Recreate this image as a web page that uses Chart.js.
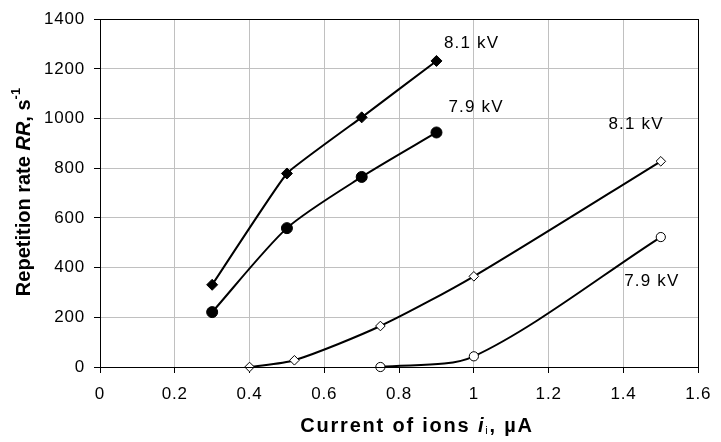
<!DOCTYPE html>
<html>
<head>
<meta charset="utf-8">
<script src="https://cdn.jsdelivr.net/npm/chart.js@4/dist/chart.umd.min.js"></script>
<style>
  body { margin: 0; background: #fff; }
  #wrap { width: 721px; height: 442px; position: relative; }
</style>
</head>
<body>
<div id="wrap"><canvas id="rrChart"></canvas></div>
<script>
// values
const xTicks = [0, 0.2, 0.4, 0.6, 0.8, 1, 1.2, 1.4, 1.6];
const yTicks = [0, 200, 400, 600, 800, 1000, 1200, 1400];

const xFilled = [0.3, 0.5, 0.7, 0.9];
const rrFilled81 = [331, 779, 1005, 1232];
const rrFilled79 = [221, 559, 765, 944];

const xOpen81 = [0.4, 0.52, 0.75, 1.0, 1.5];
const rrOpen81 = [0, 27, 165, 365, 828];

const xOpen79 = [0.75, 1.0, 1.5];
const rrOpen79 = [0, 43, 523];

const noteText = ['8.1 kV', '7.9 kV', '8.1 kV', '7.9 kV'];
const noteX = [0.92, 0.932, 1.36, 1.402];
const noteY = [1304, 1044, 977, 346];

function toPoints(xs, ys) {
    return xs.map((x, i) => ({ x: x, y: ys[i] }));
}

const FONT = '"Liberation Sans", Arial, sans-serif';

function drawRuns(ctx, runs, cx, cy) {
    let total = 0;
    runs.forEach(r => {
        ctx.font = r.font;
        r.w = ctx.measureText(r.text).width;
        total += r.w;
    });
    let x = cx - total / 2;
    runs.forEach(r => {
        ctx.font = r.font;
        ctx.fillText(r.text, x, cy + (r.dy || 0));
        x += r.w;
    });
}

const extras = {
    id: 'extras',
    beforeDraw(chart) {
        if ('letterSpacing' in chart.ctx) chart.ctx.letterSpacing = '0.8px';
    },
    afterDraw(chart) {
        const ctx = chart.ctx;
        const a = chart.chartArea;
        const xs = chart.scales.x, ys = chart.scales.y;
        ctx.save();
        ctx.strokeStyle = '#000';
        ctx.lineWidth = 1;
        ctx.strokeRect(Math.round(a.left) + 0.5, Math.round(a.top) + 0.5,
            Math.round(a.right - a.left), Math.round(a.bottom - a.top));

        ctx.fillStyle = '#000';
        ctx.textBaseline = 'middle';
        ctx.textAlign = 'left';
        if ('letterSpacing' in ctx) ctx.letterSpacing = '1.2px';
        ctx.font = '17px ' + FONT;
        noteText.forEach((t, i) => {
            ctx.fillText(t, xs.getPixelForValue(noteX[i]), ys.getPixelForValue(noteY[i]));
        });

        // x axis title
        if ('letterSpacing' in ctx) ctx.letterSpacing = '1.8px';
        drawRuns(ctx, [
            { text: 'Current of ions ', font: 'bold 20px ' + FONT },
            { text: 'i', font: 'italic bold 20px ' + FONT },
            { text: 'i', font: '11px ' + FONT, dy: 5 },
            { text: ', \u00b5A', font: 'bold 20px ' + FONT }
        ], 417, 426);

        // y axis title
        if ('letterSpacing' in ctx) ctx.letterSpacing = '0px';
        ctx.translate(24, 192);
        ctx.rotate(-Math.PI / 2);
        drawRuns(ctx, [
            { text: 'Repetition rate ', font: 'bold 20px ' + FONT },
            { text: 'RR', font: 'italic bold 20px ' + FONT },
            { text: ', s', font: 'bold 20px ' + FONT },
            { text: '-1', font: 'bold 13px ' + FONT, dy: -8 }
        ], 0, 0);
        ctx.restore();
    }
};

const series = (data, style, radius, fill, tension) => ({
    data: data,
    showLine: true,
    borderColor: '#000',
    borderWidth: 2,
    tension: tension,
    pointStyle: style,
    pointRadius: radius,
    pointBorderWidth: 1,
    pointBorderColor: '#000',
    pointBackgroundColor: fill,
    clip: 8
});

new Chart(document.getElementById('rrChart'), {
    type: 'scatter',
    data: {
        datasets: [
            series(toPoints(xFilled, rrFilled81), 'rectRot', 5.5, '#000', 0.1),
            series(toPoints(xFilled, rrFilled79), 'circle', 5.5, '#000', 0.25),
            series(toPoints(xOpen81, rrOpen81), 'rectRot', 4.8, '#fff', 0.25),
            series(toPoints(xOpen79, rrOpen79), 'circle', 4.6, '#fff', 0.3)
        ]
    },
    options: {
        responsive: true,
        maintainAspectRatio: false,
        animation: false,
        layout: { padding: { left: 0, right: 13, top: 17, bottom: 0 } },
        elements: { line: { capBezierPoints: false } },
        plugins: {
            legend: { display: false },
            tooltip: { enabled: false }
        },
        scales: {
            x: {
                type: 'linear',
                min: 0,
                max: 1.6,
                afterBuildTicks: s => { s.ticks = xTicks.map(v => ({ value: v })); },
                afterFit: s => { s.height = 75; },
                grid: { color: '#c0c0c0', tickColor: '#000', tickLength: 6 },
                border: { color: '#000', width: 1 },
                ticks: {
                    color: '#000',
                    padding: 11,
                    maxRotation: 0,
                    font: { family: FONT, size: 17 },
                    callback: v => String(Math.round(v * 10) / 10)
                }
            },
            y: {
                type: 'linear',
                min: 0,
                max: 1400,
                afterBuildTicks: s => { s.ticks = yTicks.map(v => ({ value: v })); },
                afterFit: s => { s.width = 100; },
                grid: { color: '#c0c0c0', tickColor: '#000', tickLength: 6 },
                border: { color: '#000', width: 1 },
                ticks: {
                    color: '#000',
                    padding: 9,
                    font: { family: FONT, size: 17 },
                    callback: v => String(v)
                }
            }
        }
    },
    plugins: [extras]
});
</script>
</body>
</html>
